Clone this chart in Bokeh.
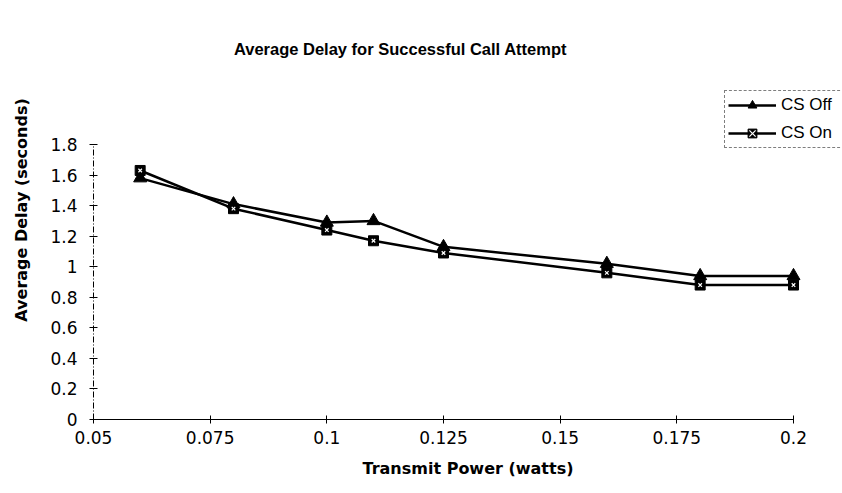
from bokeh.plotting import figure
from bokeh.models import FixedTicker, Legend, LegendItem, Label, Range1d
from bokeh.embed import file_html
from bokeh.resources import INLINE

# Data
power = [0.06, 0.08, 0.10, 0.11, 0.125, 0.16, 0.18, 0.20]
cs_off = [1.58, 1.41, 1.29, 1.30, 1.13, 1.02, 0.94, 0.94]
cs_on = [1.63, 1.38, 1.24, 1.17, 1.09, 0.96, 0.88, 0.88]

x_ticks = [0.05, 0.075, 0.1, 0.125, 0.15, 0.175, 0.2]
x_tick_labels = ["0.05", "0.075", "0.1", "0.125", "0.15", "0.175", "0.2"]
y_ticks = [0, 0.2, 0.4, 0.6, 0.8, 1.0, 1.2, 1.4, 1.6, 1.8]
y_tick_labels = ["0", "0.2", "0.4", "0.6", "0.8", "1", "1.2", "1.4", "1.6", "1.8"]

W, H = 842, 493
# plot area: axes occupy 700 x 275 px; the frame is extended up/right so that
# legend and title (which sit outside the axes) are not clipped.
LEFT, BOTTOM = 93, 74
AX_W, AX_H = 700, 275
x0, x1 = x_ticks[0], x_ticks[-1]
y0, y1 = y_ticks[0], y_ticks[-1]
frame_w = W - LEFT
frame_h = H - BOTTOM
x_end = x0 + (x1 - x0) * frame_w / AX_W
y_end = y0 + (y1 - y0) * frame_h / AX_H

p = figure(width=W, height=H, output_backend="svg", toolbar_location=None,
           x_range=Range1d(x0, x_end), y_range=Range1d(y0, y_end),
           min_border_left=LEFT, min_border_right=0, min_border_top=0,
           min_border_bottom=BOTTOM)
p.outline_line_color = None
p.grid.visible = False
p.background_fill_color = "white"
p.border_fill_color = "white"

TICK_FONT = "DejaVu Sans"
for ax in (p.xaxis[0], p.yaxis[0]):
    ax.major_tick_in = 4
    ax.major_tick_out = 4
    ax.minor_tick_line_color = None
    ax.major_label_text_font = TICK_FONT
    ax.major_label_text_font_size = "17px"
    ax.major_label_text_color = "black"
    ax.axis_line_color = "black"
    ax.major_tick_line_color = "black"
    ax.axis_label_text_font = "DejaVu Sans"
    ax.axis_label_text_font_style = "bold"
    ax.axis_label_text_font_size = "16px"
    ax.axis_label_text_color = "black"

p.xaxis.ticker = FixedTicker(ticks=x_ticks)
p.xaxis.bounds = (x0, x1)
p.xaxis.major_label_overrides = {t: l for t, l in zip(x_ticks, x_tick_labels)}
p.xaxis.major_label_standoff = 7
p.xaxis.axis_label = "Transmit Power (watts)"
p.xaxis.axis_label_standoff = 12
p.xaxis.axis_line_width = 1.2

p.yaxis.ticker = FixedTicker(ticks=y_ticks)
p.yaxis.bounds = (y0, y1)
p.yaxis.major_label_overrides = {t: l for t, l in zip(y_ticks, y_tick_labels)}
p.yaxis.major_label_standoff = 12
p.yaxis.axis_label = "Average Delay (seconds)"
p.yaxis.axis_label_standoff = 16
p.yaxis.axis_label_text_align = "center"
p.yaxis.axis_line_dash = "6 2 1 2"

# Series
l_off = p.line(power, cs_off, line_color="black", line_width=2.5)
m_off = p.scatter(power, cs_off, marker="triangle", size=13,
                  fill_color="black", line_color="black")
l_on = p.line(power, cs_on, line_color="black", line_width=2.5)
m_on = p.scatter(power, cs_on, marker="square", size=10,
                 fill_color="black", line_color="black")
x_on = p.scatter(power, cs_on, marker="x", size=5, line_color="white",
                 line_width=1.2)

legend = Legend(items=[
    LegendItem(label="CS Off", renderers=[l_off, m_off]),
    LegendItem(label="CS On", renderers=[l_on, m_on, x_on]),
], location=(724 - LEFT, frame_h - 148))
legend.border_line_color = "black"
legend.border_line_width = 1
legend.border_line_dash = "3 2"
legend.background_fill_alpha = 1
legend.label_text_font = "Liberation Sans"
legend.label_text_font_size = "17px"
legend.label_text_color = "black"
legend.label_width = 60
legend.glyph_width = 48
legend.glyph_height = 22
legend.label_standoff = 5
legend.spacing = 6
legend.padding = 3
legend.margin = 0
p.add_layout(legend, "center")

title = Label(x=400 - LEFT, y=frame_h - 48, x_units="screen", y_units="screen",
              text="Average Delay for Successful Call Attempt",
              text_font="Liberation Sans", text_font_style="bold",
              text_font_size="16.5px", text_align="center",
              text_baseline="middle", text_color="black")
p.add_layout(title)

open("out.html", "w").write(file_html(p, INLINE))
